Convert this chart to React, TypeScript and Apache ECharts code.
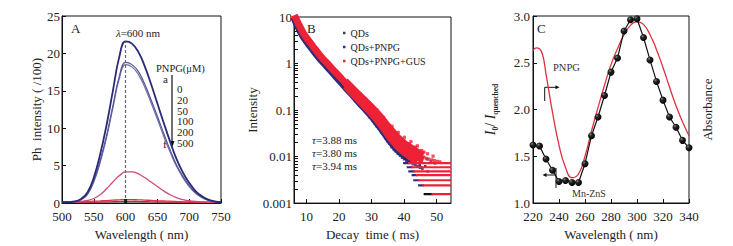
import React, { useEffect, useRef } from 'react';
import * as echarts from 'echarts';

const W = 733;
const H = 246;
const FONT = '"Liberation Serif", "Times New Roman", serif';
const INK = '#222';
const NAVY = '#2c2c7c';
const RED = '#ee2236';

// ---------- Panel A : emission spectra ----------
const wavelengthA = [500, 510, 520, 530, 540, 550, 560, 570, 580, 590, 600, 610, 620, 630, 640, 650, 660, 670, 680, 690, 700, 710, 720, 730, 740, 750];
const pnpgConc = [0, 20, 50, 100, 200, 500];
const curveA0 = [0.1, 0.12, 0.2, 0.55, 1.4, 3.4, 6.5, 10.4, 15.0, 19.5, 21.6, 21.3, 20.2, 18.3, 15.9, 13.3, 10.7, 8.2, 5.9, 4.1, 2.7, 1.6, 0.9, 0.45, 0.2, 0.1];
const curveA20 = [0.1, 0.1, 0.17, 0.48, 1.2, 3.0, 5.7, 9.0, 13.0, 16.9, 18.8, 18.5, 17.6, 15.9, 13.8, 11.6, 9.3, 7.1, 5.1, 3.6, 2.35, 1.4, 0.8, 0.4, 0.2, 0.1];
const curveA50 = [0.1, 0.1, 0.15, 0.42, 1.1, 2.8, 5.4, 8.7, 12.7, 16.6, 18.5, 18.2, 17.2, 15.5, 13.4, 11.2, 8.9, 6.8, 4.9, 3.4, 2.2, 1.3, 0.7, 0.35, 0.18, 0.1];
const curveA100 = [0.05, 0.08, 0.12, 0.2, 0.35, 0.6, 1.1, 1.9, 2.8, 3.65, 4.15, 4.15, 3.9, 3.4, 2.8, 2.2, 1.6, 1.1, 0.72, 0.45, 0.3, 0.2, 0.14, 0.1, 0.08, 0.06];
const curveA200 = [0.12, 0.13, 0.15, 0.17, 0.2, 0.24, 0.28, 0.33, 0.38, 0.42, 0.45, 0.45, 0.42, 0.39, 0.35, 0.31, 0.28, 0.24, 0.2, 0.17, 0.15, 0.13, 0.12, 0.11, 0.1, 0.1];
const curveA500 = [0.08, 0.08, 0.09, 0.1, 0.11, 0.12, 0.14, 0.16, 0.18, 0.2, 0.21, 0.21, 0.2, 0.19, 0.17, 0.15, 0.14, 0.12, 0.11, 0.1, 0.09, 0.09, 0.08, 0.08, 0.08, 0.08];
const curvesA = [curveA0, curveA20, curveA50, curveA100, curveA200, curveA500];
const colorsA = ['#2a2a72', '#55559a', '#7070aa', '#d24876', '#e0304c', '#c8203c'];
const widthsA = [1.8, 1.2, 1.2, 1.3, 1.3, 1.2];
const peakWavelength = 600;
const ticksAX = [500, 550, 600, 650, 700, 750];

// ---------- Panel B : decay curves ----------
const decayTicksX = [10, 20, 30, 40, 50];
const decayLabelsY = [0.001, 0.01, 0.1, 1, 10];
const redBand = [[6.3, 11], [7, 8.6], [8, 6.2], [9, 4.6], [10, 3.6], [12, 2.35], [14, 1.55], [16, 1.08], [18, 0.76], [20, 0.54], [22, 0.38], [24, 0.27], [26, 0.19], [28, 0.137], [30, 0.098], [32, 0.068], [34, 0.045], [36, 0.029], [38, 0.02], [40, 0.015], [42, 0.012], [44, 0.0098], [46, 0.0085]];
const redBandUpper = [[22, 0.43], [24, 0.31], [26, 0.225], [28, 0.165], [30, 0.12], [32, 0.085], [34, 0.058], [36, 0.039], [38, 0.027], [40, 0.02], [42, 0.016], [44, 0.013], [46, 0.011]];
const redBandLower = [[22, 0.32], [24, 0.225], [26, 0.16], [28, 0.114], [30, 0.081], [32, 0.055], [34, 0.036], [36, 0.023], [38, 0.016], [40, 0.012], [42, 0.0095], [44, 0.0079]];
const navyBand = [[6.3, 10], [7, 7.6], [8, 5.4], [9, 4.0], [10, 3.15], [12, 2.05], [14, 1.36], [16, 0.95], [18, 0.66], [20, 0.46], [22, 0.32], [24, 0.225], [26, 0.155], [28, 0.11], [30, 0.077], [32, 0.051], [34, 0.033], [36, 0.021], [38, 0.0145], [40, 0.011], [42, 0.0088]];
const qdsNoise = [[38.5, 0.013], [39.4, 0.0158], [40.2, 0.009], [41.8, 0.0078], [42.6, 0.0097], [43.5, 0.0072], [44.8, 0.0065], [45.2, 0.0059], [46.5, 0.0062], [47.2, 0.0048]];
const navyNoise = [[24.5, 0.2], [25.5, 0.16], [26.4, 0.14], [27.2, 0.11], [28, 0.095], [28.8, 0.085], [29.5, 0.07], [30.3, 0.06], [31, 0.052], [31.6, 0.045], [32.3, 0.04], [33, 0.033], [33.6, 0.03], [34.3, 0.025], [35, 0.021], [35.6, 0.019], [36.2, 0.016], [36.9, 0.014], [37.5, 0.013], [38.1, 0.0115], [38.8, 0.0105], [39.4, 0.0095], [40, 0.0088], [40.7, 0.0082], [41.4, 0.0079], [42, 0.0074], [42.7, 0.0069], [43.4, 0.0066], [44.1, 0.0062], [44.9, 0.0058], [45.6, 0.0055], [31.2, 0.075], [33.2, 0.05], [35.3, 0.032], [37.2, 0.022], [39.1, 0.017], [41.2, 0.013], [43.1, 0.011], [45.1, 0.0095], [47.1, 0.0088], [48.2, 0.0078], [49.5, 0.0072]];
const redNoise = [[27.5, 0.17], [28.3, 0.16], [29.1, 0.13], [29.8, 0.12], [30.6, 0.1], [31.4, 0.085], [32.1, 0.075], [32.9, 0.062], [33.5, 0.055], [34.2, 0.047], [34.9, 0.04], [35.5, 0.034], [36.1, 0.03], [36.8, 0.026], [37.4, 0.023], [38, 0.021], [38.7, 0.019], [39.3, 0.017], [40, 0.016], [40.6, 0.015], [41.3, 0.014], [41.9, 0.013], [42.6, 0.0125], [43.3, 0.012], [43.9, 0.0115], [44.6, 0.011], [45.3, 0.0105], [46, 0.0098], [46.8, 0.0092], [47.6, 0.0088], [48.5, 0.0085], [49.3, 0.0082], [50.2, 0.0079], [51, 0.0077], [30.2, 0.07], [32.4, 0.048], [34.5, 0.031], [36.6, 0.021], [38.4, 0.0155], [40.3, 0.0118], [42.2, 0.0098], [44.2, 0.0085], [37.9, 0.028], [39.9, 0.022], [41.6, 0.019], [43.5, 0.016], [35.8, 0.038], [33.7, 0.07], [31.7, 0.1], [45.4, 0.0135], [47.2, 0.0115], [48.9, 0.0102], [29.4, 0.095], [31.1, 0.062], [33.1, 0.042], [35.1, 0.027], [37.1, 0.0185], [39.1, 0.0135], [41.1, 0.0108], [43.1, 0.0093], [45.1, 0.0083], [36.3, 0.045], [38.2, 0.033], [40.1, 0.026], [42.1, 0.021], [44.1, 0.017], [46.1, 0.0125]];
const stripeLevels = [0.0072, 0.0059, 0.0048, 0.004, 0.0031, 0.0024, 0.00156];
const stripeFirstStart = [39.7, 40.8, 41.3, 42.3, 42.8, 44.3, 46.0];
const stripeRedStart = [41.2, 42.2, 42.8, 43.6, 44.2, 45.6, 48.4];
const stripeFirstSeries = ['QDs+PNPG', 'QDs+PNPG', 'QDs+PNPG', 'QDs+PNPG', 'QDs+PNPG', 'QDs+PNPG', 'QDs'];
const stripeEnd = 54.4;
const tauValues = ['3.88', '3.80', '3.94'];
const legendB = ['QDs', 'QDs+PNPG', 'QDs+PNPG+GUS'];

// ---------- Panel C : quenching vs absorbance ----------
const mnznsWl = [220, 225, 230, 235, 240, 245, 250, 255, 260, 265, 270, 275, 280, 285, 290, 295, 300, 305, 310, 315, 320, 325, 330, 335, 340];
const mnznsRatio = [1.62, 1.61, 1.47, 1.35, 1.23, 1.24, 1.22, 1.22, 1.42, 1.72, 1.92, 2.15, 2.40, 2.55, 2.84, 2.96, 2.97, 2.77, 2.53, 2.30, 2.10, 1.92, 1.81, 1.67, 1.59];
const absWl = [220, 222.5, 225, 227.5, 230, 235, 240, 245, 250, 255, 260, 265, 270, 275, 280, 285, 290, 295, 300, 305, 310, 315, 320, 325, 330, 335, 340];
const absVal = [2.63, 2.66, 2.65, 2.58, 2.38, 1.97, 1.62, 1.38, 1.27, 1.31, 1.5, 1.77, 2.02, 2.26, 2.48, 2.65, 2.8, 2.9, 2.94, 2.91, 2.8, 2.64, 2.45, 2.24, 2.04, 1.87, 1.72];

const txt = (color = INK, size = 13) => ({ color, fontFamily: FONT, fontSize: size });

function valueX(gridIndex: number, min: number, max: number, interval: number | undefined, name: string, extra: any = {}) {
  return {
    type: 'value', gridIndex, min, max, interval,
    name, nameLocation: 'middle', nameGap: 23,
    nameTextStyle: txt(INK, 13),
    axisLine: { show: true, lineStyle: { color: '#111', width: 1 } },
    axisTick: { inside: true, length: 4, lineStyle: { color: '#111' } },
    axisLabel: { ...txt(INK, 13), margin: 7 },
    splitLine: { show: false },
    ...extra,
  };
}

function buildOption() {
  const series: any[] = [];
  // Panel A
  for (let k = curvesA.length - 1; k >= 0; k--) {
    const s: any = {
      type: 'line', name: `PNPG ${pnpgConc[k]}`, xAxisIndex: 0, yAxisIndex: 0,
      data: wavelengthA.map((w, i) => [w, curvesA[k][i]]),
      smooth: 0.45, symbol: 'none',
      lineStyle: { color: colorsA[k], width: widthsA[k] },
      itemStyle: { color: colorsA[k] }, z: 3,
    };
    if (k === 0) {
      const peak = Math.max(...curveA0);
      s.markLine = {
        silent: true, symbol: 'none', label: { show: false },
        lineStyle: { type: [3, 2], color: '#666', width: 1.2 },
        data: [[{ coord: [peakWavelength, 0] }, { coord: [peakWavelength, peak] }]],
      };
    }
    series.push(s);
  }
  series.push({
    type: 'scatter', xAxisIndex: 0, yAxisIndex: 0, data: [[peakWavelength, curveA200[wavelengthA.indexOf(peakWavelength)] * 0.6]],
    symbol: 'rect', symbolSize: [3, 4], itemStyle: { color: '#000' }, z: 5,
  });

  // Panel B
  const b = { xAxisIndex: 1, yAxisIndex: 1 };
  series.push({ type: 'line', name: 'QDs+PNPG', ...b, data: navyBand, smooth: true, symbol: 'none', lineStyle: { color: NAVY, width: 8 }, itemStyle: { color: NAVY }, z: 2 });
  series.push({ type: 'scatter', name: 'QDs', ...b, data: qdsNoise, symbol: 'rect', symbolSize: 2.5, itemStyle: { color: '#111' }, z: 2 });
  series.push({ type: 'scatter', name: 'QDs+PNPG', ...b, data: navyNoise, symbol: 'rect', symbolSize: 2.8, itemStyle: { color: NAVY }, z: 2 });
  stripeLevels.forEach((lvl, i) => {
    series.push({
      type: 'line', name: stripeFirstSeries[i], ...b, data: [[stripeFirstStart[i], lvl], [stripeRedStart[i] + 0.5, lvl]],
      symbol: 'none', lineStyle: { color: stripeFirstSeries[i] === 'QDs' ? '#111' : NAVY, width: 2.2 },
      itemStyle: { color: stripeFirstSeries[i] === 'QDs' ? '#111' : NAVY }, z: 3,
    });
  });
  series.push({ type: 'line', name: 'QDs+PNPG+GUS', ...b, data: redBandUpper, smooth: true, symbol: 'none', lineStyle: { color: RED, width: 6 }, itemStyle: { color: RED }, z: 4 });
  series.push({ type: 'line', name: 'QDs+PNPG+GUS', ...b, data: redBandLower, smooth: true, symbol: 'none', lineStyle: { color: RED, width: 6 }, itemStyle: { color: RED }, z: 4 });
  series.push({ type: 'line', name: 'QDs+PNPG+GUS', ...b, data: redBand, smooth: true, symbol: 'none', lineStyle: { color: RED, width: 7 }, itemStyle: { color: RED }, z: 4 });
  series.push({ type: 'scatter', name: 'QDs+PNPG+GUS', ...b, data: redNoise, symbol: 'rect', symbolSize: 3.2, itemStyle: { color: RED }, z: 4 });
  stripeLevels.forEach((lvl, i) => {
    series.push({
      type: 'line', name: 'QDs+PNPG+GUS', ...b, data: [[stripeRedStart[i], lvl], [stripeEnd, lvl]],
      symbol: 'none', lineStyle: { color: RED, width: 2.2 }, itemStyle: { color: RED }, z: 4,
    });
  });

  // Panel C
  series.push({
    type: 'line', name: 'PNPG absorbance', xAxisIndex: 2, yAxisIndex: 3,
    data: absWl.map((w, i) => [w, absVal[i]]), smooth: true, symbol: 'none',
    lineStyle: { color: '#e0303f', width: 1.3 }, itemStyle: { color: '#e0303f' }, z: 3,
  });
  series.push({
    type: 'line', name: 'Mn-ZnS', xAxisIndex: 2, yAxisIndex: 2,
    data: mnznsWl.map((w, i) => [w, mnznsRatio[i]]), smooth: false,
    symbol: 'circle', symbolSize: 7,
    lineStyle: { color: '#111', width: 1.2 },
    itemStyle: {
      color: { type: 'radial', x: 0.35, y: 0.32, r: 0.75, colorStops: [{ offset: 0, color: '#8a8a8a' }, { offset: 0.3, color: '#262626' }, { offset: 1, color: '#000' }] },
    },
    z: 4,
  });

  const logMinor: number[] = [];
  [0.001, 0.01, 0.1, 1].forEach((d) => { for (let m = 1; m <= 9; m++) logMinor.push(+(d * m).toPrecision(2)); });
  logMinor.push(10);

  const gridBase = { show: true, borderColor: '#111', borderWidth: 1, backgroundColor: 'transparent', containLabel: false };

  const g = (x: number, y: number, text: string, size = 11, extra: any = {}) => ({
    type: 'text', x, y, silent: true,
    style: { text, fontFamily: FONT, fontSize: size, fill: INK, verticalAlign: 'middle', ...extra },
  });

  const graphic: any[] = [
    g(71, 28, 'A', 13),
    g(138, 33, '{g|λ}=600 nm', 11, { align: 'center', rich: { g: { fontStyle: 'italic', fontFamily: FONT, fontSize: 11 } } }),
    g(156, 68, 'PNPG(μM)', 10.5),
    g(163, 79, 'a', 11),
    g(163, 144, 'f', 11),
    { type: 'line', silent: true, shape: { x1: 172, y1: 75, x2: 172, y2: 143 }, style: { stroke: '#111', lineWidth: 1.2 } },
    { type: 'polygon', silent: true, shape: { points: [[169.5, 141], [174.5, 141], [172, 148]] }, style: { fill: '#111' } },
    ...pnpgConc.map((c, i) => g(177, 89 + i * 10.8, String(c), 11)),
    g(307, 28, 'B', 13),
    ...tauValues.map((t, i) => g(312, 140 + i * 13, `{t|τ}=${t} ms`, 11, { rich: { t: { fontStyle: 'italic', fontFamily: FONT, fontSize: 11 } } })),
    g(537, 28, 'C', 13),
    g(553, 67, 'PNPG', 10.5, { fill: '#333' }),
    { type: 'polyline', silent: true, shape: { points: [[544.7, 101], [544.7, 87.3], [557, 87.3]] }, style: { stroke: '#111', lineWidth: 1, fill: 'none' } },
    { type: 'polygon', silent: true, shape: { points: [[555.5, 85.3], [555.5, 89.3], [559.5, 87.3]] }, style: { fill: '#111' } },
    { type: 'line', silent: true, shape: { x1: 545, y1: 175, x2: 556, y2: 175 }, style: { stroke: '#111', lineWidth: 1 } },
    { type: 'line', silent: true, shape: { x1: 556, y1: 168, x2: 556, y2: 188 }, style: { stroke: '#111', lineWidth: 1 } },
    { type: 'polygon', silent: true, shape: { points: [[546.5, 173], [546.5, 177], [542.5, 175]] }, style: { fill: '#111' } },
    g(572, 193, 'Mn-ZnS', 10, { fill: '#333' }),
  ];

  return {
    animation: false,
    backgroundColor: '#fff',
    textStyle: { fontFamily: FONT },
    grid: [
      { ...gridBase, left: 62, top: 16, width: 159, height: 187 },
      { ...gridBase, left: 294, top: 17, width: 157, height: 187 },
      { ...gridBase, left: 533, top: 16, width: 156, height: 187 },
    ],
    legend: {
      data: legendB, orient: 'vertical', left: 343, top: 27, itemWidth: 2.5, itemHeight: 2.5, itemGap: 2,
      icon: 'rect', padding: 0, selectedMode: false,
      textStyle: { fontFamily: FONT, fontSize: 10, color: INK, lineHeight: 12 },
    },
    xAxis: [
      valueX(0, ticksAX[0], ticksAX[ticksAX.length - 1], 50, 'Wavelength ( nm)'),
      valueX(1, 6.2, stripeEnd, undefined, 'Decay  time ( ms)', {
        axisTick: { inside: true, length: 4, lineStyle: { color: '#111' }, customValues: decayTicksX },
        axisLabel: { ...txt(INK, 13), margin: 7, customValues: decayTicksX },
      }),
      valueX(2, 220, 340, 20, 'Wavelength ( nm)'),
    ],
    yAxis: [
      {
        type: 'value', gridIndex: 0, min: 0, max: 25, interval: 5,
        name: 'Ph  intensity ( /100)', nameLocation: 'middle', nameGap: 19, nameTextStyle: txt(INK, 13),
        axisLine: { show: true, lineStyle: { color: '#111' } },
        axisTick: { inside: true, length: 4, lineStyle: { color: '#111' } },
        axisLabel: { ...txt(INK, 13), margin: 2 },
        splitLine: { show: false },
      },
      {
        type: 'log', gridIndex: 1, min: 0.001, max: 10, logBase: 10,
        name: 'Intensity', nameLocation: 'middle', nameGap: 29, nameTextStyle: txt(INK, 13),
        axisLine: { show: true, lineStyle: { color: '#111' } },
        axisTick: { inside: true, length: 4, lineStyle: { color: '#111' }, customValues: logMinor },
        axisLabel: {
          ...txt(INK, 13), margin: 2, customValues: decayLabelsY,
          formatter: (v: number) => {
            const e = Math.round(Math.log10(v));
            return e >= 0 ? String(Math.pow(10, e)) : Math.pow(10, e).toFixed(-e);
          },
        },
        splitLine: { show: false },
      },
      {
        type: 'value', gridIndex: 2, min: 1, max: 3, interval: 0.5,
        name: '{i|I}{s|0}{n|/ }{i|I}{s|quenched}', nameLocation: 'middle', nameGap: 34,
        nameTextStyle: {
          ...txt(INK, 14),
          rich: {
            i: { fontFamily: FONT, fontSize: 14, fontStyle: 'italic', color: INK, lineHeight: 18 },
            n: { fontFamily: FONT, fontSize: 14, color: INK, lineHeight: 18 },
            s: { fontFamily: FONT, fontSize: 7.5, fontWeight: 'bold', color: INK, lineHeight: 18, verticalAlign: 'bottom', padding: [6, 0, 0, 0] },
          },
        },
        axisLine: { show: true, lineStyle: { color: '#111' } },
        axisTick: { inside: true, length: 4, lineStyle: { color: '#111' } },
        axisLabel: { ...txt(INK, 13), margin: 3, formatter: (v: number) => v.toFixed(1) },
        splitLine: { show: false },
      },
      {
        type: 'value', gridIndex: 2, min: 1, max: 3, position: 'right',
        name: 'Absorbance', nameLocation: 'middle', nameGap: 12, nameRotate: 90, nameTextStyle: txt(INK, 13),
        axisLine: { show: false }, axisTick: { show: false }, axisLabel: { show: false },
        splitLine: { show: false },
      },
    ],
    series,
    graphic,
  };
}

export default function App() {
  const ref = useRef<HTMLDivElement>(null);
  useEffect(() => {
    if (!ref.current) return;
    const chart = echarts.init(ref.current, null, { renderer: 'svg', width: W, height: H });
    chart.setOption(buildOption() as any);
    return () => chart.dispose();
  }, []);
  return <div ref={ref} style={{ position: 'absolute', left: 0, top: 0, width: W, height: H, background: '#fff' }} />;
}
